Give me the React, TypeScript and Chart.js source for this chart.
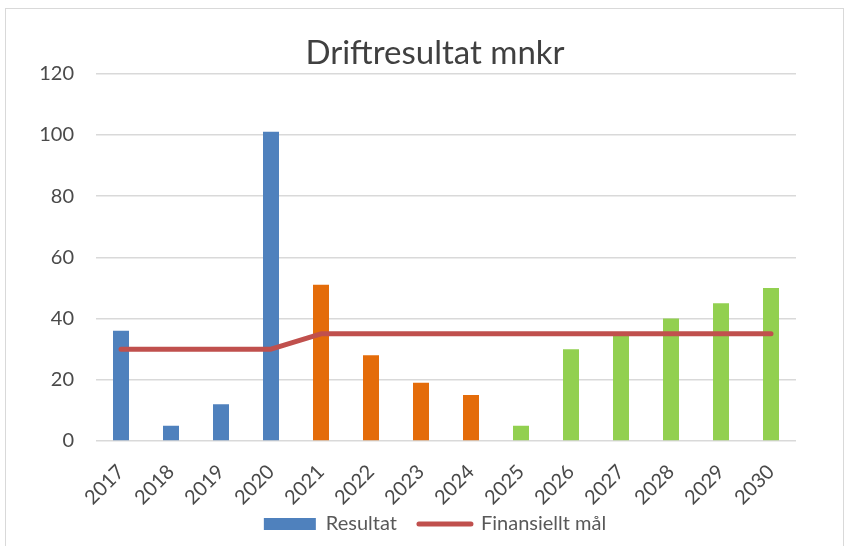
import React, { useEffect, useRef } from "react";
import { Chart, registerables } from "chart.js";

Chart.register(...registerables);

const years = ["2017", "2018", "2019", "2020", "2021", "2022", "2023", "2024", "2025", "2026", "2027", "2028", "2029", "2030"];
const resultat = [36, 5, 12, 101, 51, 28, 19, 15, 5, 30, 35, 40, 45, 50];
const finansielltMal = [30, 30, 30, 30, 35, 35, 35, 35, 35, 35, 35, 35, 35, 35];
const barColors = [
  "#4F81BD", "#4F81BD", "#4F81BD", "#4F81BD",
  "#E46C0A", "#E46C0A", "#E46C0A", "#E46C0A",
  "#92D050", "#92D050", "#92D050", "#92D050", "#92D050", "#92D050",
];
const yMin = 0;
const yMax = 120;
const yStep = 20;

const FONT = "Lato, 'Open Sans', sans-serif";
const TEXT = "#595959";
const TICK = "#4A4A4A";
const GRID = "#D9D9D9";

const layoutTweak = {
  id: "layoutTweak",
  afterLayout(chart: any) {
    const lg = chart.legend;
    if (lg) {
      lg.top -= 16;
      lg.bottom -= 16;
    }
    const x = chart.scales && chart.scales.x;
    if (x) {
      x.bottom += 12;
    }
  },
};

export default function App() {
  const ref = useRef<HTMLCanvasElement | null>(null);

  useEffect(() => {
    if (!ref.current) return;
    const chart = new Chart(ref.current, {
      data: {
        labels: years,
        datasets: [
          {
            type: "line",
            label: "Finansiellt mål",
            data: finansielltMal,
            borderColor: "#C0504D",
            backgroundColor: "#C0504D",
            borderWidth: 5,
            pointRadius: 0,
            tension: 0,
            borderCapStyle: "round",
            borderJoinStyle: "round",
            order: 0,
          },
          {
            type: "bar",
            label: "Resultat",
            data: resultat,
            backgroundColor: barColors,
            barPercentage: 0.32,
            categoryPercentage: 1,
            order: 1,
          },
        ],
      },
      plugins: [layoutTweak],
      options: {
        responsive: false,
        animation: false,
        layout: { padding: { left: 20, right: 0, top: 0, bottom: 0 } },
        plugins: {
          title: {
            display: true,
            text: "Driftresultat mnkr",
            color: "#404040",
            font: { family: FONT, size: 33, weight: "normal", lineHeight: 1.2 },
            padding: { top: 34, bottom: 0 },
          },
          tooltip: { enabled: false },
          legend: {
            position: "bottom",
            maxHeight: 38,
            labels: {
              usePointStyle: true,
              pointStyleWidth: 52,
              boxHeight: 12,
              padding: 22,
              color: TEXT,
              font: { family: FONT, size: 20 },
              generateLabels: () => [
                {
                  text: "Resultat",
                  pointStyle: "rect",
                  fillStyle: "#4F81BD",
                  strokeStyle: "#4F81BD",
                  lineWidth: 0,
                  fontColor: TEXT,
                  datasetIndex: 1,
                  hidden: false,
                },
                {
                  text: "Finansiellt mål",
                  pointStyle: "line",
                  fillStyle: "#C0504D",
                  strokeStyle: "#C0504D",
                  lineWidth: 5,
                  lineCap: "round",
                  fontColor: TEXT,
                  datasetIndex: 0,
                  hidden: false,
                },
              ],
            },
          },
        },
        scales: {
          x: {
            grid: { display: false, drawTicks: false },
            border: { display: false },
            ticks: {
              color: TICK,
              font: { family: FONT, size: 20 },
              minRotation: 45,
              maxRotation: 45,
              padding: 19,
            },
            afterFit: (s: any) => {
              s.height = 67;
            },
          },
          y: {
            min: yMin,
            max: yMax,
            grid: { color: GRID, lineWidth: 1.5, drawTicks: false },
            border: { display: false },
            ticks: {
              stepSize: yStep,
              color: TICK,
              font: { family: FONT, size: 20 },
              padding: 22,
            },
            afterFit: (s: any) => {
              s.width = 76;
            },
          },
          yRight: {
            type: "linear",
            position: "right",
            display: true,
            grid: { display: false, drawTicks: false },
            border: { display: false },
            ticks: { display: false },
            afterFit: (s: any) => {
              s.width = 54;
            },
          },
        },
      },
    } as any);
    return () => chart.destroy();
  }, []);

  return (
    <div style={{ position: "absolute", left: 0, top: 0, width: 850, height: 546, background: "#fff", overflow: "hidden" }}>
      <div style={{ position: "absolute", left: 5, top: 8, width: 839, height: 560, border: "1px solid #D9D9D9", boxSizing: "border-box" }} />
      <canvas ref={ref} width={850} height={546} style={{ position: "absolute", left: 0, top: 0 }} />
    </div>
  );
}
